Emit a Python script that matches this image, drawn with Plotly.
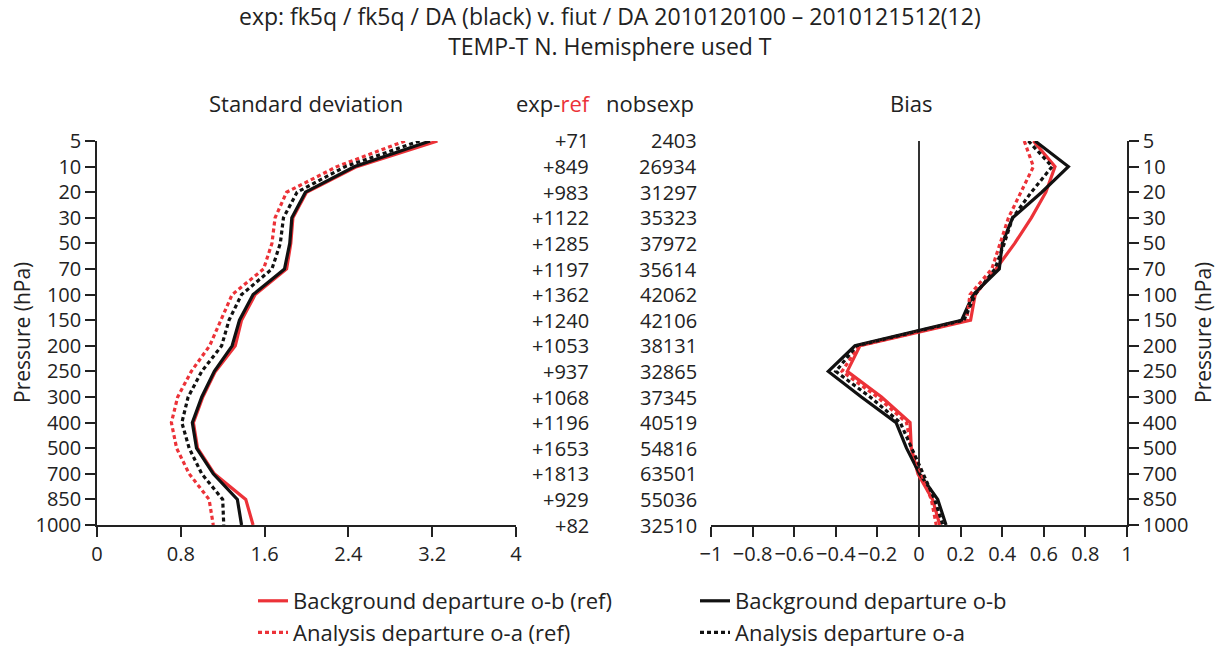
import plotly.graph_objects as go

# Pressure levels (hPa), top to bottom
levels = ["5", "10", "20", "30", "50", "70", "100", "150",
          "200", "250", "300", "400", "500", "700", "850", "1000"]

# Standard deviation of departures (K)
std_ob_ref = [3.25, 2.48, 2.00, 1.87, 1.85, 1.81, 1.51, 1.38,
              1.32, 1.13, 1.01, 0.92, 0.96, 1.12, 1.42, 1.49]
std_ob = [3.18, 2.46, 1.99, 1.86, 1.84, 1.79, 1.49, 1.36,
          1.29, 1.12, 1.00, 0.91, 0.95, 1.11, 1.34, 1.38]
std_oa_ref = [2.94, 2.29, 1.81, 1.70, 1.67, 1.59, 1.29, 1.18,
              1.075, 0.90, 0.77, 0.71, 0.76, 0.88, 1.07, 1.11]
std_oa = [3.08, 2.37, 1.91, 1.78, 1.75, 1.67, 1.38, 1.26,
          1.19, 1.00, 0.87, 0.81, 0.88, 1.00, 1.20, 1.21]

# Mean departures (bias, K)
bias_ob_ref = [0.55, 0.654, 0.61, 0.54, 0.46, 0.37, 0.27, 0.248,
               -0.284, -0.345, -0.18, -0.043, -0.037, -0.005, 0.065, 0.10]
bias_ob = [0.558, 0.718, 0.59, 0.45, 0.40, 0.386, 0.26, 0.205,
           -0.308, -0.436, -0.277, -0.11, -0.06, 0.003, 0.09, 0.13]
bias_oa_ref = [0.506, 0.55, 0.49, 0.43, 0.39, 0.35, 0.245, 0.229,
               -0.29, -0.37, -0.20, -0.06, -0.037, 0.011, 0.059, 0.083]
bias_oa = [0.526, 0.64, 0.54, 0.45, 0.41, 0.365, 0.27, 0.216,
           -0.30, -0.40, -0.235, -0.09, -0.035, 0.02, 0.075, 0.115]

# Observation counts per level
exp_minus_ref = [71, 849, 983, 1122, 1285, 1197, 1362, 1240,
                 1053, 937, 1068, 1196, 1653, 1813, 929, 82]
nobs_exp = [2403, 26934, 31297, 35323, 37972, 35614, 42062, 42106,
            38131, 32865, 37345, 40519, 54816, 63501, 55036, 32510]

std_ticks = [0, 0.8, 1.6, 2.4, 3.2, 4]
bias_ticks = [-1, -0.8, -0.6, -0.4, -0.2, 0, 0.2, 0.4, 0.6, 0.8, 1]

title_lines = ["exp: fk5q / fk5q / DA (black) v. fiut / DA 2010120100 \u2013 2010121512(12)",
               "TEMP-T N. Hemisphere used T"]

RED = "#ec3238"
BLACK = "#111111"
TXT = "#222222"
FONT = "Open Sans"
W, H = 1222, 650

ypos = list(range(len(levels)))

series = [
    ("Background departure o-b (ref)", std_ob_ref, bias_ob_ref, RED, "solid"),
    ("Background departure o-b", std_ob, bias_ob, BLACK, "solid"),
    ("Analysis departure o-a (ref)", std_oa_ref, bias_oa_ref, RED, "4px,3px"),
    ("Analysis departure o-a", std_oa, bias_oa, BLACK, "4px,3px"),
]

fig = go.Figure()
for name, sd, bs, col, dash in series:
    line = dict(color=col, width=3.2, dash=dash)
    fig.add_trace(go.Scatter(x=sd, y=ypos, mode="lines", line=line, name=name,
                             xaxis="x", yaxis="y", showlegend=True))
    fig.add_trace(go.Scatter(x=bs, y=ypos, mode="lines", line=line, name=name,
                             xaxis="x2", yaxis="y2", showlegend=False))


def px(x):
    return x / W


def py(y):
    return 1 - y / H


y_dom = [py(525), py(141)]
axis_common = dict(showline=True, linecolor=TXT, linewidth=1.5,
                   ticks="outside", ticklen=10, tickwidth=1.5, tickcolor=TXT,
                   showgrid=False, zeroline=False, tickangle=0,
                   tickfont=dict(family=FONT, size=20, color=TXT))

fig.update_layout(
    width=W, height=H,
    margin=dict(l=0, r=0, t=0, b=0, autoexpand=False),
    paper_bgcolor="white", plot_bgcolor="white",
    font=dict(family=FONT, size=22, color=TXT),
    xaxis=dict(domain=[px(97), px(516)], range=[0, 4], tickvals=std_ticks,
               ticktext=[f"{t:g}" for t in std_ticks], anchor="y", **axis_common),
    yaxis=dict(domain=y_dom, range=[len(levels) - 1, 0], tickvals=ypos,
               ticktext=levels, anchor="x", **axis_common),
    xaxis2=dict(domain=[px(711), px(1127)], range=[-1, 1], tickvals=bias_ticks,
                ticktext=[f"{t:g}".replace("-", "\u2212") for t in bias_ticks],
                anchor="y2", **{**axis_common, "zeroline": True,
                                "zerolinecolor": "#333", "zerolinewidth": 1.5}),
    yaxis2=dict(domain=y_dom, range=[len(levels) - 1, 0], tickvals=ypos,
                ticktext=levels, anchor="x2", side="right", **axis_common),
    legend=dict(orientation="h", x=px(253), y=py(580), xanchor="left", yanchor="top",
                entrywidth=397, entrywidthmode="pixels",
                font=dict(family=FONT, size=22, color=TXT),
                bgcolor="rgba(0,0,0,0)", traceorder="normal"),
)

ann = []
ann.append(dict(text="<br>".join(title_lines), x=px(610), y=py(31.5), font=dict(size=23)))
ann.append(dict(text="Standard deviation", x=px(306), y=py(103)))
ann.append(dict(text="exp-<span style='color:%s'>ref</span>" % RED, x=px(553), y=py(103)))
ann.append(dict(text="nobsexp", x=px(650), y=py(103)))
ann.append(dict(text="Bias", x=px(911), y=py(103)))
ann.append(dict(text="Pressure (hPa)", x=px(22), y=py(333), textangle=-90, font=dict(size=21)))
ann.append(dict(text="Pressure (hPa)", x=px(1203), y=py(333), textangle=-90, font=dict(size=21)))
for a in ann:
    a.update(xref="paper", yref="paper", showarrow=False, xanchor="center", yanchor="middle")

# Per-level count columns between the two panels
for i, (d, n) in enumerate(zip(exp_minus_ref, nobs_exp)):
    ann.append(dict(text=f"{d:+d}", x=px(591), y=i, xref="paper", yref="y",
                    xanchor="right", yanchor="middle", showarrow=False,
                    font=dict(size=20)))
    ann.append(dict(text=f"{n}", x=px(699), y=i, xref="paper", yref="y",
                    xanchor="right", yanchor="middle", showarrow=False,
                    font=dict(size=20)))

fig.update_layout(annotations=ann)
fig.write_html("out.html")
